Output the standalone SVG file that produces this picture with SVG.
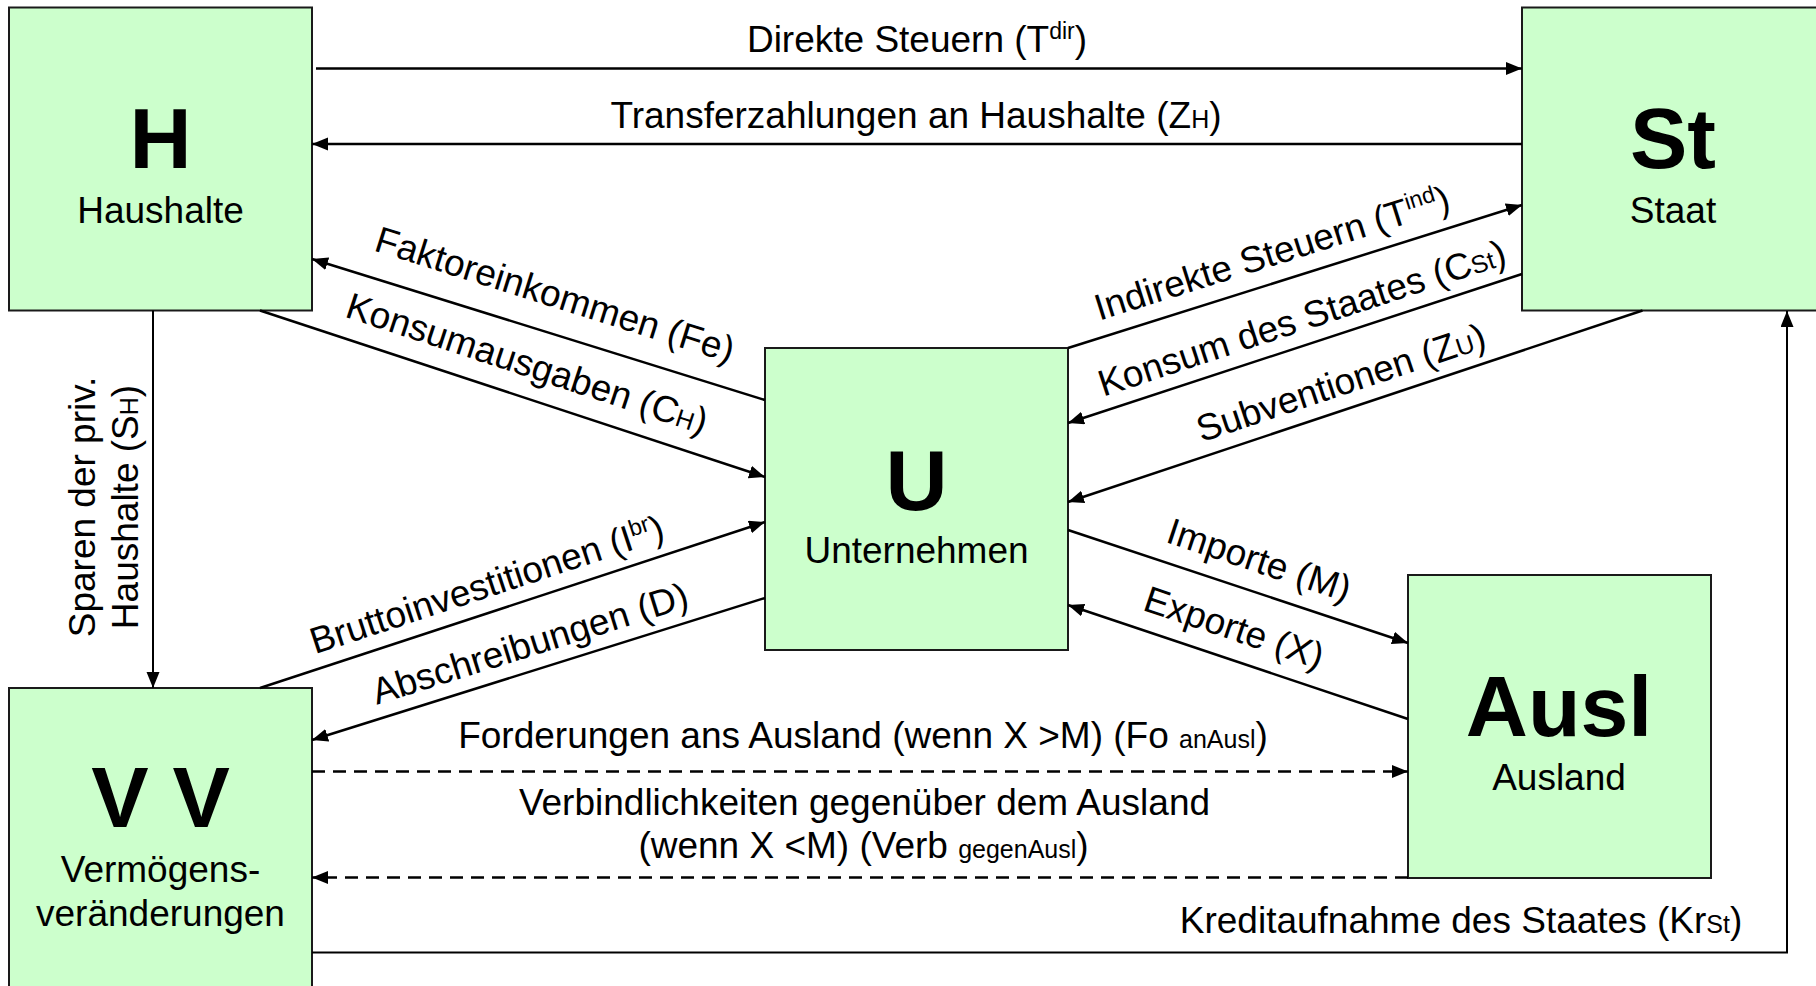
<svg xmlns="http://www.w3.org/2000/svg" width="1816" height="986" viewBox="0 0 1816 986">
<style>
.box{fill:#ccffcc;stroke:#1a1a1a;stroke-width:2}
.big{font-family:"Liberation Sans",Arial,sans-serif;font-weight:bold;font-size:86px;text-anchor:middle;fill:#000}
.sub{font-family:"Liberation Sans",Arial,sans-serif;font-size:37px;text-anchor:middle;fill:#000}
.lbl{font-family:"Liberation Sans",Arial,sans-serif;font-size:37px;fill:#000}
.c{text-anchor:middle}
.ln{stroke:#000;stroke-width:2.5;fill:none}
.thin{stroke:#000;stroke-width:2;fill:none}
.dash{stroke:#000;stroke-width:2.5;fill:none;stroke-dasharray:13 8}
.a{marker-end:url(#ah)}
</style>
<defs>
<marker id="ah" markerUnits="userSpaceOnUse" markerWidth="18" markerHeight="14" refX="16" refY="6.5" orient="auto">
<path d="M0,0 L16,6.5 L0,13 z" fill="#000"/>
</marker>
</defs>
<rect width="1816" height="986" fill="#fff"/>

<g id="H">
<rect class="box" x="9" y="7.5" width="303" height="303"/>
<text class="big" x="160.5" y="168">H</text>
<text class="sub" x="160.5" y="223">Haushalte</text>
</g>
<g id="St">
<rect class="box" x="1522" y="7.5" width="303" height="303"/>
<text class="big" x="1673" y="168">St</text>
<text class="sub" x="1673" y="223">Staat</text>
</g>
<g id="U">
<rect class="box" x="765" y="348" width="303" height="302"/>
<text class="big" x="916.5" y="510">U</text>
<text class="sub" x="916.5" y="563">Unternehmen</text>
</g>
<g id="Ausl">
<rect class="box" x="1408" y="575" width="303" height="303"/>
<text class="big" x="1559" y="736">Ausl</text>
<text class="sub" x="1559" y="790">Ausland</text>
</g>
<g id="VV">
<rect class="box" x="9" y="688" width="303" height="310"/>
<text class="big" x="160.5" y="827">V V</text>
<text class="sub" x="160.5" y="882">Vermögens-</text>
<text class="sub" x="160.5" y="926">veränderungen</text>
</g>

<g id="connectors">
<line class="ln a" x1="316" y1="68.5" x2="1522" y2="68.5"/>
<line class="ln a" x1="1522" y1="144" x2="312" y2="144"/>
<line class="ln a" x1="765" y1="400" x2="312" y2="259"/>
<line class="ln a" x1="260" y1="310.5" x2="765" y2="477"/>
<line class="thin a" x1="153" y1="310.5" x2="153" y2="688"/>
<line class="ln a" x1="260" y1="688" x2="765" y2="522"/>
<line class="ln a" x1="765" y1="598" x2="312" y2="740"/>
<line class="ln a" x1="1068" y1="348" x2="1522" y2="205"/>
<line class="ln a" x1="1522" y1="274" x2="1068" y2="423"/>
<line class="ln a" x1="1642.5" y1="310.5" x2="1068" y2="502"/>
<line class="ln a" x1="1068" y1="530" x2="1408" y2="643"/>
<line class="ln a" x1="1408" y1="719" x2="1068" y2="605"/>
<line class="dash a" x1="312" y1="771.5" x2="1408" y2="771.5"/>
<line class="dash a" x1="1408" y1="877.5" x2="312" y2="877.5"/>
<polyline class="thin a" points="312,952.5 1787,952.5 1787,311"/>
</g>

<g id="labels">
<text class="lbl c" x="917" y="52">Direkte Steuern (T<tspan font-size="23" dy="-13">dir</tspan><tspan dy="13">)</tspan></text>
<text class="lbl c" x="916" y="128">Transferzahlungen an Haushalte (Z<tspan font-size="25">H</tspan>)</text>
<text class="lbl c" transform="translate(554,298) rotate(17.5)" y="9">Faktoreinkommen (Fe)</text>
<text class="lbl c" transform="translate(526,367) rotate(18.2)" y="9">Konsumausgaben (C<tspan font-size="25">H</tspan>)</text>
<text class="lbl c" transform="translate(488,588) rotate(-18.2)" y="9">Bruttoinvestitionen (I<tspan font-size="23" dy="-13">br</tspan><tspan dy="13">)</tspan></text>
<text class="lbl c" transform="translate(531,647) rotate(-17.4)" y="9">Abschreibungen (D)</text>
<text class="lbl c" transform="translate(1273,256.5) rotate(-17.5)" y="9">Indirekte Steuern (T<tspan font-size="23" dy="-13">ind</tspan><tspan dy="13">)</tspan></text>
<text class="lbl c" transform="translate(1303,321.5) rotate(-18.2)" y="9">Konsum des Staates (C<tspan font-size="25">St</tspan>)</text>
<text class="lbl c" transform="translate(1342,386) rotate(-18.4)" y="9">Subventionen (Z<tspan font-size="25">U</tspan>)</text>
<text class="lbl c" transform="translate(1258,563.5) rotate(18.4)" y="9">Importe (M)</text>
<text class="lbl c" transform="translate(1233,631) rotate(18.6)" y="9">Exporte (X)</text>
<text class="lbl c" transform="translate(95,507) rotate(-90)" x="0" y="0">Sparen der priv.</text>
<text class="lbl c" transform="translate(138,507) rotate(-90)" x="0" y="0">Haushalte (S<tspan font-size="25">H</tspan>)</text>
<text class="lbl c" x="863" y="748">Forderungen ans Ausland (wenn X &gt;M) (Fo <tspan font-size="25">anAusl</tspan>)</text>
<text class="lbl c" x="864.5" y="815">Verbindlichkeiten gegenüber dem Ausland</text>
<text class="lbl c" x="863.5" y="858">(wenn X &lt;M) (Verb <tspan font-size="25">gegenAusl</tspan>)</text>
<text class="lbl c" x="1461" y="933">Kreditaufnahme des Staates (Kr<tspan font-size="25">St</tspan>)</text>
</g>
</svg>
